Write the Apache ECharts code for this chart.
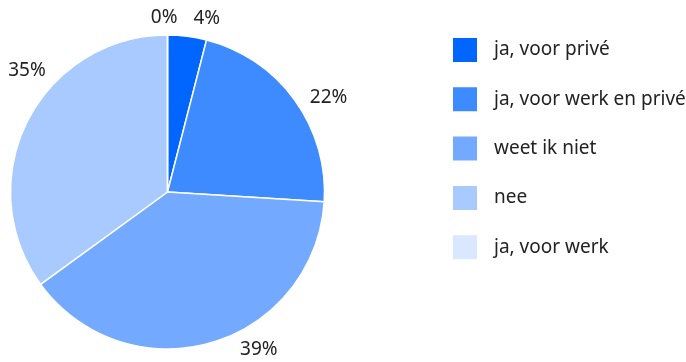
<!DOCTYPE html>
<html>
<head>
<meta charset="utf-8">
<script src="https://cdn.jsdelivr.net/npm/echarts@6/dist/echarts.min.js"></script>
<style>
  html, body { margin: 0; padding: 0; background: #fff; }
  #chart { width: 686px; height: 362px; }
</style>
</head>
<body>
<div id="chart"></div>
<script>
// Answers and their share of respondents (percent)
const categories = ['ja, voor privé', 'ja, voor werk en privé', 'weet ik niet', 'nee', 'ja, voor werk'];
const values = [4, 22, 39, 35, 0];
const colors = ['#0066ff', '#3d8bff', '#73aaff', '#a8caff', '#d9e7ff'];

// Nudges applied to the outside percentage labels so they sit clear of each other
const labelNudge = [[-10, -8], [-3, 4], [11, -2], [42, -46], [25, -7]];

const chart = echarts.init(document.getElementById('chart'));
const fontFamily = '"Noto Sans", sans-serif';

chart.setOption({
  animation: false,
  color: colors,
  legend: {
    orient: 'vertical',
    left: 451,
    top: 36,
    padding: 0,
    itemWidth: 26,
    itemHeight: 26,
    itemGap: 21.3,
    icon: 'rect',
    textStyle: { fontFamily, fontSize: 19, color: '#222', padding: [0, 0, 0, 11] },
    data: categories
  },
  series: [{
    type: 'pie',
    center: [167.5, 192],
    radius: 157,
    startAngle: 90,
    clockwise: true,
    itemStyle: { borderColor: '#fff', borderWidth: 1.5 },
    label: {
      show: true,
      position: 'outside',
      width: 44,
      fontFamily,
      fontSize: 19,
      color: '#222',
      formatter: p => p.value + '%'
    },
    labelLine: { show: false, length: 10, length2: 10 },
    labelLayout: p => ({ dx: labelNudge[p.dataIndex][0], dy: labelNudge[p.dataIndex][1] }),
    emphasis: { disabled: true },
    data: categories.map((name, i) => ({ name, value: values[i] }))
  }]
});
</script>
</body>
</html>
